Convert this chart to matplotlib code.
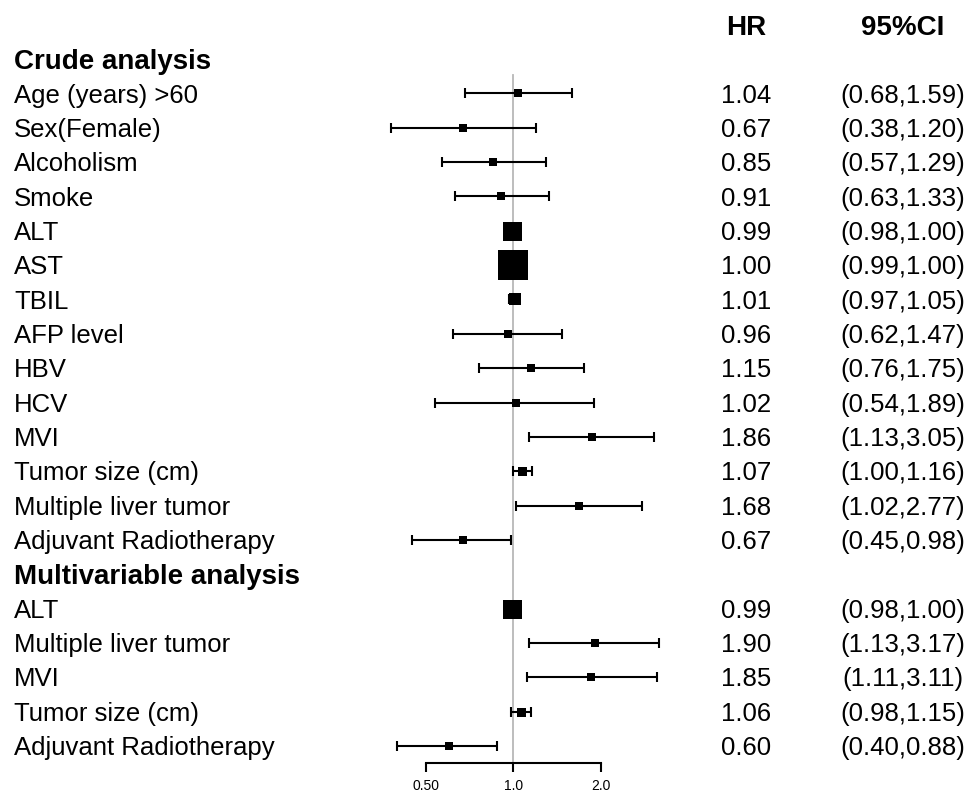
import matplotlib
matplotlib.use("Agg")
import matplotlib.pyplot as plt
import matplotlib.transforms as mtransforms
import numpy as np

plt.rcParams['font.family'] = ['Liberation Sans', 'DejaVu Sans']

# ---- data ----
crude_labels = ["Age (years) >60", "Sex(Female)", "Alcoholism", "Smoke", "ALT", "AST",
                "TBIL", "AFP level", "HBV", "HCV", "MVI", "Tumor size (cm)",
                "Multiple liver tumor", "Adjuvant Radiotherapy"]
crude_hr = [1.04, 0.67, 0.85, 0.91, 0.99, 1.00, 1.01, 0.96, 1.15, 1.02, 1.86, 1.07, 1.68, 0.67]
crude_lo = [0.68, 0.38, 0.57, 0.63, 0.98, 0.99, 0.97, 0.62, 0.76, 0.54, 1.13, 1.00, 1.02, 0.45]
crude_hi = [1.59, 1.20, 1.29, 1.33, 1.00, 1.00, 1.05, 1.47, 1.75, 1.89, 3.05, 1.16, 2.77, 0.98]

multi_labels = ["ALT", "Multiple liver tumor", "MVI", "Tumor size (cm)", "Adjuvant Radiotherapy"]
multi_hr = [0.99, 1.90, 1.85, 1.06, 0.60]
multi_lo = [0.98, 1.13, 1.11, 0.98, 0.40]
multi_hi = [1.00, 3.17, 3.11, 1.15, 0.88]

section_titles = ["Crude analysis", "Multivariable analysis"]
col_titles = ["HR", "95%CI"]
tick_values = [0.5, 1.0, 2.0]
tick_labels = ["0.50", "1.0", "2.0"]

# box side lengths (pixels) used for the point estimates
crude_box = [8, 8, 8, 8, 19, 30, 12, 8, 8, 8, 8, 9, 8, 8]
multi_box = [19, 8, 8, 9, 8]

# ---- layout ----
W, H = 967, 794
fig = plt.figure(figsize=(W / 100, H / 100), dpi=100)
ax = fig.add_axes([0, 0, 1, 1])
ax.set_xscale('log')

# horizontal scale: pixel = x0 + k*log2(value)
x0_px, k_px = 513.3, 87.7
ax.set_xlim(2 ** ((0 - x0_px) / k_px), 2 ** ((W - x0_px) / k_px))
# vertical scale: one unit per row
y0_px, row_px = 59.0, 34.35
ax.set_ylim((H - y0_px) / row_px, -y0_px / row_px)

# rows
crude_rows = np.arange(1, 1 + len(crude_labels))
multi_start = crude_rows[-1] + 1
multi_rows = np.arange(multi_start + 1, multi_start + 1 + len(multi_labels))

labels = crude_labels + multi_labels
hr = np.array(crude_hr + multi_hr)
lo = np.array(crude_lo + multi_lo)
hi = np.array(crude_hi + multi_hi)
rows = np.concatenate([crude_rows, multi_rows])
boxes = crude_box + multi_box
last_row = rows[-1]

# reference line at HR = 1
ax.plot([1, 1], [0.47, last_row + 0.5], color='#b8b8b8', lw=1.3, zorder=1)

# confidence intervals
ax.errorbar(hr, rows, xerr=[hr - lo, hi - hr], fmt='none', ecolor='black',
            elinewidth=1.5, capsize=3.6, capthick=1.5, zorder=2)

# point estimates
for x, y, b in zip(hr, rows, boxes):
    ax.plot([x], [y], marker='s', ms=b * 0.72, mfc='black', mec='black',
            mew=0, ls='none', zorder=3)

# axis
for side in ['top', 'left', 'right']:
    ax.spines[side].set_visible(False)
ax.spines['bottom'].set_position(('data', last_row + 0.5))
ax.spines['bottom'].set_bounds(tick_values[0], tick_values[-1])
ax.spines['bottom'].set_linewidth(1.5)
ax.set_xticks(tick_values)
ax.set_xticklabels(tick_labels)
ax.xaxis.set_minor_locator(matplotlib.ticker.NullLocator())
ax.tick_params(axis='x', direction='out', length=6.2, width=1.5, labelsize=10, pad=5.5)
ax.set_yticks([])

# ---- text ----
blend = mtransforms.blended_transform_factory(ax.transAxes, ax.transData)
reg_size, bold_size = 18.5, 20


def put(xpx, row, s, size, weight='normal', ha='left'):
    off = mtransforms.offset_copy(blend, fig=fig, y=-size * 0.716 / 2, units='points')
    ax.text(xpx / W, row, s, transform=off, fontsize=size, fontweight=weight,
            ha=ha, va='baseline', color='black')


label_x, hr_x, ci_x = 14, 746, 903

put(hr_x, -1, col_titles[0], bold_size, 'bold', 'center')
put(ci_x, -1, col_titles[1], bold_size, 'bold', 'center')
put(label_x, 0, section_titles[0], bold_size, 'bold')
put(label_x, multi_start, section_titles[1], bold_size, 'bold')

for lab, r, h, l, u in zip(labels, rows, hr, lo, hi):
    put(label_x, r, lab, reg_size)
    put(hr_x, r, f"{h:.2f}", reg_size, ha='center')
    put(ci_x, r, f"({l:.2f},{u:.2f})", reg_size, ha='center')

fig.savefig("out.png", dpi=100, facecolor='white')
